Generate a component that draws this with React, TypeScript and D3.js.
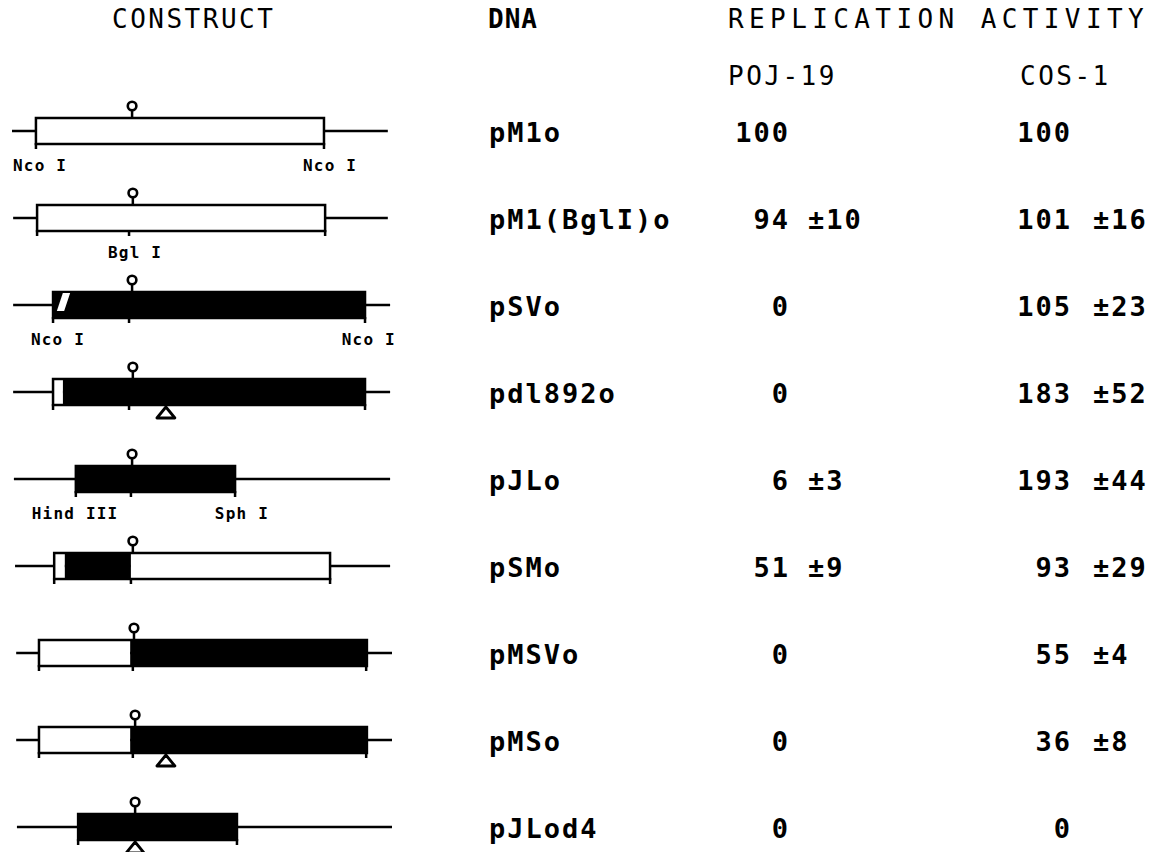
import * as d3 from "d3";
import React, { useEffect, useRef } from "react";

// plasmid names, top to bottom
const constructs = ["pM1o", "pM1(BglI)o", "pSVo", "pdl892o", "pJLo", "pSMo", "pMSVo", "pMSo", "pJLod4"];

// replication activity (% of pM1o)
const poj19 = [100, 94, 0, 0, 6, 51, 0, 0, 0];
const poj19Err = [null, 10, null, null, 3, 9, null, null, null];
const cos1 = [100, 101, 105, 183, 193, 93, 55, 36, 0];
const cos1Err = [null, 16, 23, 52, 44, 29, 4, 8, null];

// construct maps, in map units (0-100 across the drawing)
const flank = [[0, 98.9], [0.3, 98.9], [0.3, 99.5], [0.3, 99.5], [0.5, 99.5], [0.8, 99.5], [1.1, 100], [1.1, 100], [1.3, 100]];
const segments = [
    [[6.3, 82.1, "white"]],
    [[6.6, 82.4, "white"]],
    [[10.8, 92.9, "black"]],
    [[10.8, 13.4, "white"], [13.4, 92.9, "black"]],
    [[16.8, 58.7, "black"]],
    [[11.1, 13.9, "white"], [13.9, 31.3, "black"], [31.3, 83.7, "white"]],
    [[7.1, 31.1, "white"], [31.1, 93.4, "black"]],
    [[7.1, 31.1, "white"], [31.1, 93.4, "black"]],
    [[17.4, 59.2, "black"]],
];
const sites = [
    [6.3, 82.1],
    [6.6, 30.8, 82.4],
    [10.8, 30.8, 92.9],
    [10.8, 30.8, 92.9],
    [16.8, 31.3, 58.7],
    [11.1, 31.3, 83.7],
    [7.1, 31.8, 93.2],
    [7.1, 31.8, 93.2],
    [17.4, 59.2],
];
const origin = [31.6, 31.8, 31.6, 31.8, 31.6, 31.8, 32.1, 32.4, 32.4];
const deletion = [null, null, null, 40.5, null, null, null, 40.5, 32.4];
const hatch = [null, null, [11.8, 15.3], null, null, null, null, null, null];
const siteLabels = [
    [["Nco I", 7.4], ["Nco I", 83.7]],
    [["Bgl I", 32.4]],
    [["Nco I", 12.1], ["Nco I", 93.9]],
    [],
    [["Hind III", 16.6], ["Sph I", 60.5]],
    [], [], [], [],
];

const W = 1154;
const H = 852;
const MONO = "'DejaVu Sans Mono', monospace";

export default function App() {
    const svgRef = useRef(null);

    useEffect(() => {
        document.body.style.margin = "0";
        const svg = d3.select(svgRef.current);
        svg.selectAll("*").remove();

        const x = d3.scaleLinear().domain([0, 100]).range([12, 392]);
        const y = d3.scalePoint().domain(constructs).range([131, 827]);
        const half = 13;
        const sw = 2.5;

        // headers
        const head = svg.append("g").attr("font-family", MONO).attr("font-size", 26).attr("fill", "black");
        head.append("text").attr("x", 112).attr("y", 28).attr("letter-spacing", 2.5).text("CONSTRUCT");
        head.append("text").attr("x", 488).attr("y", 28).attr("font-weight", "bold").attr("letter-spacing", 1).text("DNA");
        head.append("text").attr("x", 728).attr("y", 28).attr("letter-spacing", 5.4).text("REPLICATION ACTIVITY");
        head.append("text").attr("x", 728).attr("y", 85).attr("letter-spacing", 2.5).text("POJ-19");
        head.append("text").attr("x", 1020).attr("y", 85).attr("letter-spacing", 2.5).text("COS-1");

        const rows = svg.selectAll("g.row").data(constructs).join("g").attr("class", "row");

        rows.each(function (name, i) {
            const g = d3.select(this);
            const cy = y(name);

            // flanking vector line
            g.append("line")
                .attr("x1", x(flank[i][0])).attr("x2", x(flank[i][1]))
                .attr("y1", cy).attr("y2", cy)
                .attr("stroke", "black").attr("stroke-width", sw);

            // insert segments
            segments[i].forEach(([a, b, fill]) => {
                g.append("rect")
                    .attr("x", x(a)).attr("y", cy - half)
                    .attr("width", x(b) - x(a)).attr("height", 2 * half)
                    .attr("fill", fill);
            });
            const segs = segments[i];
            const bx0 = x(segs[0][0]);
            const bx1 = x(segs[segs.length - 1][1]);
            g.append("rect")
                .attr("x", bx0).attr("y", cy - half)
                .attr("width", bx1 - bx0).attr("height", 2 * half)
                .attr("fill", "none").attr("stroke", "black").attr("stroke-width", sw);

            if (hatch[i]) {
                const [a, b] = hatch[i];
                const sk = (x(b) - x(a)) * 0.45;
                g.append("path")
                    .attr("d", `M${x(a)},${cy + 6}L${x(a) + sk},${cy - half + 1}L${x(b)},${cy - half + 1}L${x(b) - sk},${cy + 6}Z`)
                    .attr("fill", "white");
            }

            // restriction site ticks
            g.selectAll("line.tick").data(sites[i]).join("line").attr("class", "tick")
                .attr("x1", (d) => x(d)).attr("x2", (d) => x(d))
                .attr("y1", cy + half - 1).attr("y2", cy + half + 5)
                .attr("stroke", "black").attr("stroke-width", sw);

            // origin lollipop
            const ox = x(origin[i]);
            g.append("line")
                .attr("x1", ox).attr("x2", ox)
                .attr("y1", cy - half).attr("y2", cy - 21)
                .attr("stroke", "black").attr("stroke-width", sw);
            g.append("circle")
                .attr("cx", ox).attr("cy", cy - 25).attr("r", 4.3)
                .attr("fill", "white").attr("stroke", "black").attr("stroke-width", 2.6);

            // deletion triangle
            if (deletion[i] != null) {
                const dx = x(deletion[i]);
                const top = cy + half + 2;
                g.append("path")
                    .attr("d", `M${dx},${top}L${dx + 9},${top + 11}L${dx - 9},${top + 11}Z`)
                    .attr("fill", "white").attr("stroke", "black").attr("stroke-width", 2.8)
                    .attr("stroke-linejoin", "round");
            }

            // site names
            siteLabels[i].forEach(([t, at]) => {
                g.append("text")
                    .attr("x", x(at)).attr("y", cy + 40)
                    .attr("text-anchor", "middle")
                    .attr("font-family", MONO).attr("font-weight", "bold")
                    .attr("font-size", 16).attr("letter-spacing", 1.2)
                    .text(t);
            });

            // table text
            const tg = g.append("g").attr("font-family", MONO).attr("font-weight", "bold")
                .attr("font-size", 27).attr("letter-spacing", 2).attr("fill", "black");
            tg.append("text").attr("x", 489).attr("y", cy + 11).text(name);
            tg.append("text").attr("x", 790).attr("y", cy + 11).attr("text-anchor", "end").text(poj19[i]);
            if (poj19Err[i] != null) tg.append("text").attr("x", 808).attr("y", cy + 11).text(`±${poj19Err[i]}`);
            tg.append("text").attr("x", 1072).attr("y", cy + 11).attr("text-anchor", "end").text(cos1[i]);
            if (cos1Err[i] != null) tg.append("text").attr("x", 1093).attr("y", cy + 11).text(`±${cos1Err[i]}`);
        });
    }, []);

    return <svg ref={svgRef} width={W} height={H} style={{ display: "block", background: "white" }}></svg>;
}
